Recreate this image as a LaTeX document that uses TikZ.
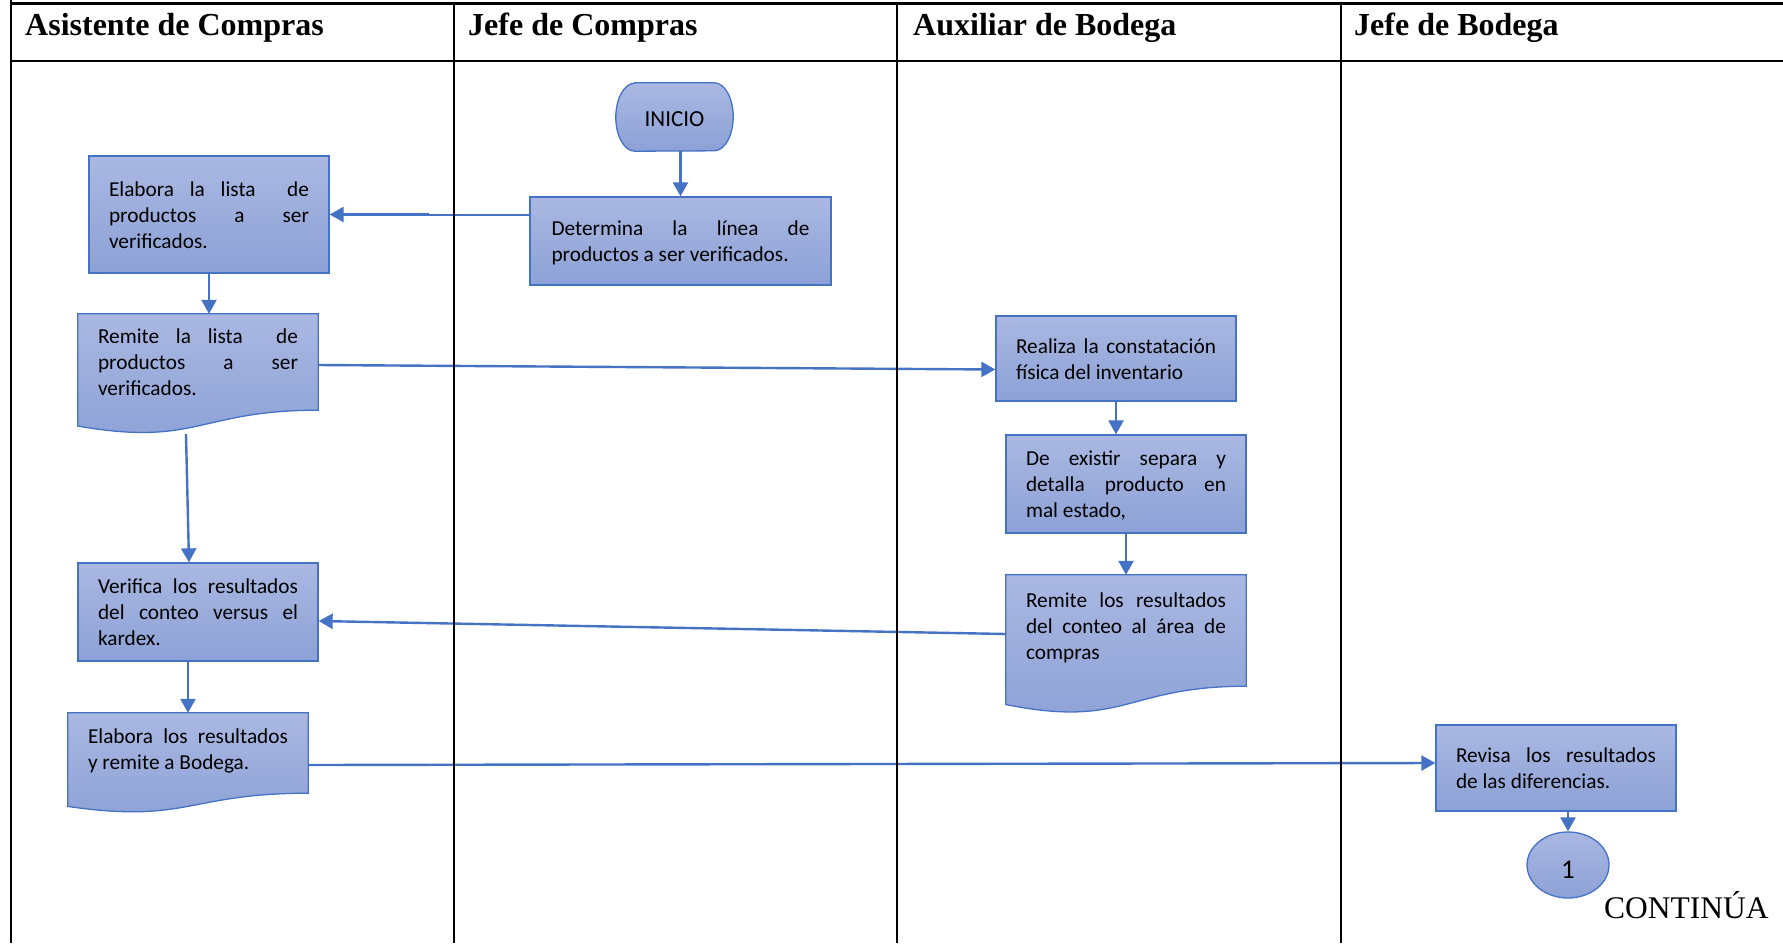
\documentclass[tikz,border=0pt]{standalone}
\usepackage{fontspec}
\setmainfont{Carlito}
\newfontfamily\headfont{Liberation Serif}
\usetikzlibrary{arrows.meta,calc,shapes.geometric}
\pgfdeclarelayer{bg}
\pgfsetlayers{bg,main}

\definecolor{flowblue}{RGB}{68,114,196}
\definecolor{shadetop}{RGB}{170,184,226}
\definecolor{shadebot}{RGB}{140,161,214}

\tikzset{
  lane/.style={draw=black, line width=2.6pt},
  head/.style={anchor=base west, inner sep=0pt,
    font=\headfont\bfseries\fontsize{32pt}{36pt}\selectfont},
  framefill/.style={draw=flowblue, line width=1.3pt,
    top color=shadetop, bottom color=shadebot},
  % fixed ascent of the first line and descent of the last one,
  % so that every text block sits the same way inside its box
  lines/.style={execute at begin node={\rule{0pt}{21.4pt}},
    execute at end node={\rule[-#1]{0pt}{0pt}}},
  lines/.default=6pt,
  txtbox/.style={text width=200pt, inner xsep=20pt, inner ysep=0pt,
    minimum width=240pt, align=justify, lines,
    font=\fontsize{21.3pt}{26pt}\selectfont},
  procbox/.style={txtbox, framefill},
  docbox/.style={txtbox},
  arr/.style={draw=flowblue, line width=2.4pt,
    -{Triangle[length=14pt,width=15pt]}},
}

% document symbol: rectangle with a wavy lower edge below the node box
\newcommand\wavebox[1]{%
  \begin{pgfonlayer}{bg}
    \draw[framefill] (#1.north west) -- (#1.north east) -- (#1.south east)
      .. controls (#1.south) and ($(#1.south)!-0.381!(#1.north)$)
      .. ($(#1.south west)!-0.1646!(#1.north west)$) -- cycle;
  \end{pgfonlayer}}

% terminator symbol with elliptic ends
\newcommand\termshape[1]{%
  \begin{pgfonlayer}{bg}
    \draw[framefill] ([xshift=19pt]#1.north west) -- ([xshift=-19pt]#1.north east)
      arc[start angle=90, end angle=-90, x radius=19pt, y radius=34pt]
      -- ([xshift=19pt]#1.south west)
      arc[start angle=270, end angle=90, x radius=19pt, y radius=34pt] -- cycle;
  \end{pgfonlayer}}

\begin{document}
\begin{tikzpicture}[x=1pt, y=-1pt]
\useasboundingbox (0,0) rectangle (1783,943);

% lane headers
\node[head] (h1) at (25,35)   {Asistente de Compras};
\node[head] (h2) at (468,35)  {Jefe de Compras};
\node[head] (h3) at (913,35)  {Auxiliar de Bodega};
\node[head] (h4) at (1354,35) {Jefe de Bodega};

% start
\node[minimum width=117pt, minimum height=68pt, inner sep=0pt, text height=18.8pt,
      font=\fontsize{23pt}{26pt}\selectfont] (inicio) at (674.5,117) {INICIO};
\termshape{inicio}

% Jefe de Compras
\node[procbox, text width=258pt, inner xsep=21.5pt, minimum height=88pt] (det)
  at (680.5,241) {Determina la línea de\linebreak productos a ser verificados.};

% Asistente de Compras
\node[procbox, minimum height=117pt] (elab1) at (209,214.5)
  {Elabora la lista\ \ de\linebreak productos a ser\linebreak verificados.};
\node[docbox, minimum height=96pt] (rem1) at (198,362)
  {Remite la lista\ \ de\linebreak productos a ser\linebreak verificados.};
\wavebox{rem1}
\node[procbox, minimum height=98pt] (verif) at (198,612)
  {Verifica los resultados\linebreak del conteo versus el\linebreak kardex.};
\node[docbox, lines=14pt, minimum height=80pt] (elabres) at (188,753)
  {Elabora los resultados\linebreak y remite a Bodega.};
\wavebox{elabres}

% Auxiliar de Bodega
\node[procbox, minimum height=85pt] (realiza) at (1116,358.5)
  {Realiza la constatación\linebreak física del inventario};
\node[procbox, minimum height=98pt] (deex) at (1126,484)
  {De existir separa y\linebreak detalla producto en\linebreak mal estado,};
\node[docbox, lines=16pt, minimum height=111pt] (remres) at (1126,630.5)
  {Remite los resultados\linebreak del conteo al área de\linebreak compras};
\wavebox{remres}

% Jefe de Bodega
\node[procbox, minimum height=86pt] (revisa) at (1556,768)
  {Revisa los resultados\linebreak de las diferencias.};
\node[ellipse, framefill, minimum width=82pt, minimum height=66pt, inner sep=0pt,
      text height=27pt, text depth=0pt,
      font=\fontsize{27pt}{30pt}\selectfont] (circ) at (1568,865) {1};

\node[anchor=base west, inner sep=0pt,
      font=\headfont\fontsize{31.5pt}{36pt}\selectfont] (cont) at (1604,918) {CONTINÚA};

% connectors
\draw[arr] (inicio.south -| det.north) -- (det.north);
\draw[arr] ([yshift=26pt]det.west) -- ++(-102,0) |- (elab1.east);
\draw[arr] (elab1.south) -- (elab1.south |- rem1.north);
\draw[arr] ([yshift=-3pt]rem1.east) -- ([yshift=-11pt]realiza.west);
\draw[arr] ([xshift=-12pt,yshift=-24pt]rem1.south) -- ([xshift=-9pt]verif.north);
\draw[arr] ([yshift=-3.5pt]remres.west) -- ([yshift=-9pt]verif.east);
\draw[arr] (verif.south -| elabres.north) -- (elabres.north);
\draw[arr] ([yshift=-12pt]elabres.east) -- ([yshift=5pt]revisa.west);
\draw[arr] (realiza.south) -- (realiza.south |- deex.north);
\draw[arr] (deex.south) -- (deex.south |- remres.north);
\draw[arr] (revisa.south -| circ.north) -- (circ.north);

% table rules
\draw[lane] (11,0) -- (11,943);
\draw[lane] (11,3.5) -- (1783,3.5);
\draw[lane] (11,61) -- (1783,61);
\draw[lane] (454,3.5) -- (454,943);
\draw[lane] (897,3.5) -- (897,943);
\draw[lane] (1341,3.5) -- (1341,943);
\end{tikzpicture}
\end{document}
